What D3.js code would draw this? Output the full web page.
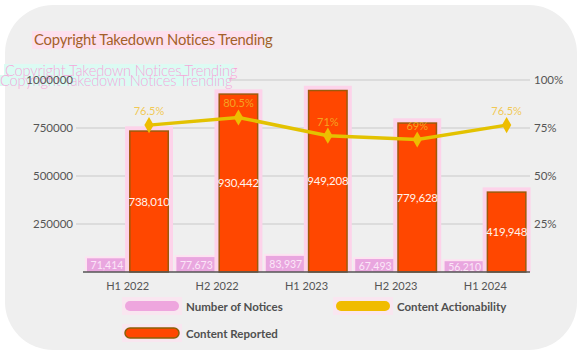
<!DOCTYPE html>
<html>
<head>
<meta charset="utf-8">
<script src="https://cdn.jsdelivr.net/npm/d3@7"></script>
<style>
  html, body { margin: 0; padding: 0; background: #ffffff; }
  svg { display: block; font-family: Lato, "Open Sans", sans-serif; }
</style>
</head>
<body>
<svg id="chart" width="582" height="357"></svg>
<script>
const categories = ["H1 2022", "H2 2022", "H1 2023", "H2 2023", "H1 2024"];
const notices = [71414, 77673, 83937, 67493, 56210];
const reported = [738010, 930442, 949208, 779628, 419948];
const actionability = [76.5, 80.5, 71, 69, 76.5];
const actionLabels = ["76.5%", "80.5%", "71%", "69%", "76.5%"];
const leftTicks = [250000, 500000, 750000, 1000000];
const rightTicks = [25, 50, 75, 100];
const title = "Copyright Takedown Notices Trending";

const svg = d3.select("#chart");
const fmt = d3.format(",");

// card background
svg.append("rect").attr("x", 5).attr("y", 5).attr("width", 572).attr("height", 345)
  .attr("rx", 48).attr("ry", 48).attr("fill", "#efefef");

// title with highlight
svg.append("rect").attr("x", 32).attr("y", 31).attr("width", 231).attr("height", 18).attr("fill", "#fde0ee");
svg.append("text").attr("x", 34).attr("y", 45).attr("font-size", 14.8).attr("letter-spacing", -0.2)
  .attr("fill", "#a3612a").text(title);

const x = d3.scaleBand().domain(categories).range([83, 530]).paddingInner(0).paddingOuter(0);
const sub = d3.scaleBand().domain(["n", "r"]).range([4, 86]).paddingInner(0.05);
const y = d3.scaleLinear().domain([0, 1000000]).range([272, 80]);
const yp = d3.scaleLinear().domain([0, 100]).range([272, 80]);

// gridlines
svg.append("g").selectAll("line").data(leftTicks).join("line")
  .attr("x1", 76).attr("x2", 530).attr("y1", d => y(d)).attr("y2", d => y(d))
  .attr("stroke", "#c9c9c9").attr("stroke-width", 1);

// ghost title artifacts
const ghost = svg.append("g");
ghost.append("rect").attr("x", 4).attr("y", 64).attr("width", 230).attr("height", 11).attr("fill", "#dcfbf3");
ghost.append("rect").attr("x", 0).attr("y", 75).attr("width", 229).attr("height", 11).attr("fill", "#dcfbf3");
ghost.append("text").attr("x", 5).attr("y", 76).attr("font-size", 14.6).attr("font-weight", 300)
  .attr("letter-spacing", -0.15).attr("fill", "#f7a6da").text(title);
ghost.append("text").attr("x", 0).attr("y", 86).attr("font-size", 14.6).attr("font-weight", 300)
  .attr("letter-spacing", -0.15).attr("fill", "#f7a6da").text(title);

// left axis
const gl = svg.append("g").attr("transform", "translate(75,0)")
  .call(d3.axisLeft(y).tickValues(leftTicks).tickSize(0).tickPadding(2).tickFormat(d3.format("d")));
gl.select(".domain").remove();
gl.selectAll("text").attr("font-size", 11.5).attr("fill", "#555").attr("font-family", "Lato, sans-serif");

// right axis
const gr = svg.append("g").attr("transform", "translate(530,0)")
  .call(d3.axisRight(yp).tickValues(rightTicks).tickSize(0).tickPadding(4).tickFormat(d => d + "%"));
gr.select(".domain").remove();
gr.selectAll("text").attr("font-size", 11.5).attr("fill", "#555").attr("font-family", "Lato, sans-serif");

// notices bars (pink)
const nG = svg.append("g");
nG.selectAll("rect.halo").data(notices).join("rect").attr("class", "halo")
  .attr("x", (d, i) => x(categories[i]) + sub("n") - 2).attr("y", d => y(d) - 2)
  .attr("width", sub.bandwidth() + 4).attr("height", d => y(0) - y(d) + 2).attr("fill", "#fde3f1");
nG.selectAll("rect.bar").data(notices).join("rect").attr("class", "bar")
  .attr("x", (d, i) => x(categories[i]) + sub("n")).attr("y", d => y(d))
  .attr("width", sub.bandwidth()).attr("height", d => y(0) - y(d)).attr("fill", "#e9a6df");
nG.selectAll("text").data(notices).join("text")
  .attr("x", (d, i) => x(categories[i]) + sub("n") + sub.bandwidth() / 2)
  .attr("y", d => (y(d) + y(0)) / 2 + 4)
  .attr("text-anchor", "middle").attr("font-size", 10.5).attr("fill", "#fbe6f8")
  .text(d => fmt(d));

// reported bars (orange)
const rG = svg.append("g");
rG.selectAll("rect.halo").data(reported).join("rect").attr("class", "halo")
  .attr("x", (d, i) => x(categories[i]) + sub("r") - 4).attr("y", d => y(d) - 4)
  .attr("width", sub.bandwidth() + 8).attr("height", d => y(0) - y(d) + 4).attr("fill", "#fdd3ea");
rG.selectAll("rect.bar").data(reported).join("rect").attr("class", "bar")
  .attr("x", (d, i) => x(categories[i]) + sub("r") + 0.75).attr("y", d => y(d) + 0.75)
  .attr("width", sub.bandwidth() - 1.5).attr("height", d => y(0) - y(d) - 0.75)
  .attr("fill", "#ff4700").attr("stroke", "#9c5a0c").attr("stroke-width", 1.5);
rG.selectAll("text").data(reported).join("text")
  .attr("x", (d, i) => x(categories[i]) + sub("r") + sub.bandwidth() / 2)
  .attr("y", d => (y(d) + y(0)) / 2 + 4.5)
  .attr("text-anchor", "middle").attr("font-size", 11.5).attr("letter-spacing", -0.2)
  .attr("fill", "#fff4ee").text(d => fmt(d));

// baseline
svg.append("line").attr("x1", 83).attr("x2", 530).attr("y1", 272).attr("y2", 272)
  .attr("stroke", "#555").attr("stroke-width", 1.5);

// x axis labels
const gx = svg.append("g").attr("transform", "translate(0,272)")
  .call(d3.axisBottom(x).tickSize(0).tickPadding(10));
gx.select(".domain").remove();
gx.selectAll("text").attr("font-size", 11).attr("fill", "#555").attr("font-family", "Lato, sans-serif");

// actionability line
const cx = (i) => x(categories[i]) + sub("r") + sub.bandwidth() / 2;
const line = d3.line().x((d, i) => cx(i)).y(d => yp(d));
svg.append("path").datum(actionability).attr("d", line)
  .attr("fill", "none").attr("stroke", "#e3c200").attr("stroke-width", 3.5);
svg.append("g").selectAll("path").data(actionability).join("path")
  .attr("d", d3.symbol().type(d3.symbolDiamond).size(75))
  .attr("transform", (d, i) => `translate(${cx(i)},${yp(d)})`)
  .attr("fill", "#eebd00");
svg.append("g").selectAll("text").data(actionability).join("text")
  .attr("x", (d, i) => cx(i)).attr("y", d => yp(d) - 10)
  .attr("text-anchor", "middle").attr("font-size", 11)
  .attr("fill", "#f2be2a").attr("fill-opacity", 0.8)
  .text((d, i) => actionLabels[i]);

// legend
const legendItems = [
  { label: "Number of Notices", fill: "#eea6de", stroke: "none", x: 125, y: 306 },
  { label: "Content Actionability", fill: "#f0bc00", stroke: "none", x: 336, y: 306 },
  { label: "Content Reported", fill: "#ff4700", stroke: "#8a6008", x: 125, y: 333 }
];
const lg = svg.append("g");
legendItems.forEach(it => {
  lg.append("rect").attr("x", it.x - 3).attr("y", it.y - 9).attr("width", 60).attr("height", 18)
    .attr("fill", "#fde3f1").attr("opacity", 0.7);
  lg.append("rect").attr("x", it.x).attr("y", it.y - 5).attr("width", 54).attr("height", 10)
    .attr("rx", 5).attr("ry", 5).attr("fill", it.fill)
    .attr("stroke", it.stroke).attr("stroke-width", it.stroke === "none" ? 0 : 1.5);
  lg.append("text").attr("x", it.x + 61).attr("y", it.y + 4.5)
    .attr("font-size", 11.5).attr("font-weight", 700).attr("fill", "#505050").text(it.label);
});
</script>
</body>
</html>
